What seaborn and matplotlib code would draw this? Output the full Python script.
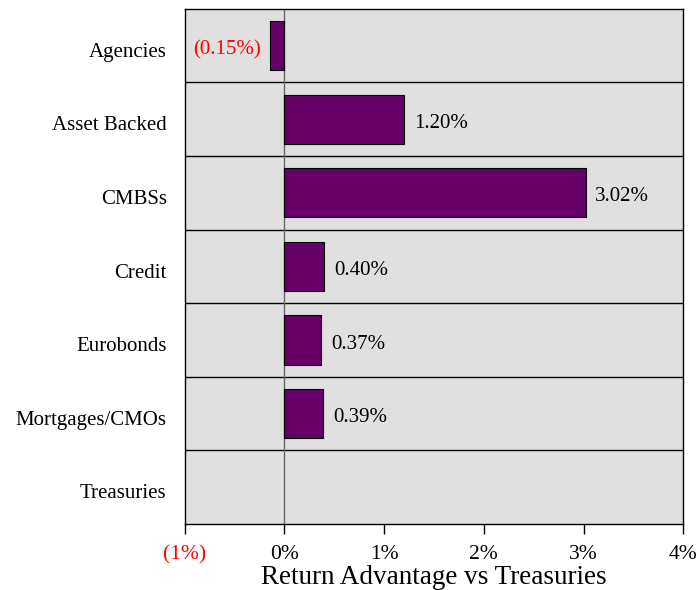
import numpy as np
import pandas as pd
import matplotlib
matplotlib.use("Agg")
import matplotlib.pyplot as plt
import matplotlib.transforms as mtransforms
import seaborn as sns

# Data
sectors = ['Agencies', 'Asset Backed', 'CMBSs', 'Credit', 'Eurobonds', 'Mortgages/CMOs', 'Treasuries']
advantage = [-0.15, 1.20, 3.02, 0.40, 0.37, 0.39, 0.0]
tick_vals = [-1, 0, 1, 2, 3, 4]
tick_labels = ['(1%)', '0%', '1%', '2%', '3%', '4%']

sns.set_style('white')
plt.rcParams['font.family'] = ['Liberation Serif', 'DejaVu Serif']
plt.rcParams['text.color'] = 'black'
plt.rcParams['axes.labelcolor'] = 'black'
plt.rcParams['xtick.color'] = 'black'
plt.rcParams['ytick.color'] = 'black'

df = pd.DataFrame({'sector': sectors, 'adv': advantage})

fig = plt.figure(figsize=(7, 5.9), dpi=100)
ax = fig.add_axes([0.264, 0.112, 0.712, 0.873])
ax.set_facecolor('#e0e0e0')

sns.barplot(data=df, x='adv', y='sector', orient='h', color='#660066',
            edgecolor='black', linewidth=0.8, width=0.67, saturation=1, ax=ax)

# hide zero-width bar outline (Treasuries)
for p, v in zip(ax.patches, advantage):
    if v == 0:
        p.set_linewidth(0)

ax.set_xlim(-1, 4)
ax.set_ylim(len(sectors) - 0.5, -0.5)

for i in range(len(sectors) - 1):
    ax.axhline(i + 0.5, color='black', linewidth=1.0, zorder=0.5)
ax.axvline(0, color='#666666', linewidth=1.0, zorder=0.5)

for i, v in enumerate(advantage):
    if v > 0:
        ax.annotate(f'{v:.2f}%', xy=(v, i), xytext=(7, -3), textcoords='offset points',
                    ha='left', va='center', fontsize=15, color='black')
    elif v < 0:
        ax.annotate(f'({abs(v):.2f}%)', xy=(v, i), xytext=(-6, -3), textcoords='offset points',
                    ha='right', va='center', fontsize=15, color='red')

ax.set_xticks(tick_vals)
ax.set_xticklabels(tick_labels, fontsize=15.5)
ax.get_xticklabels()[0].set_color('red')
ax.tick_params(axis='x', direction='out', length=7, width=1, pad=8, bottom=True)
ax.tick_params(axis='y', length=0, pad=13, labelsize=15)
ax.set_xlabel('Return Advantage vs Treasuries', fontsize=19.5, labelpad=1)
ax.set_ylabel('')

# nudge category labels down a little, like the original
shift = mtransforms.ScaledTranslation(0, -3 / 72, fig.dpi_scale_trans)
for lab in ax.get_yticklabels():
    lab.set_transform(lab.get_transform() + shift)

for s in ax.spines.values():
    s.set_visible(True)
    s.set_color('black')
    s.set_linewidth(1.0)

fig.savefig('out.png', dpi=100)
